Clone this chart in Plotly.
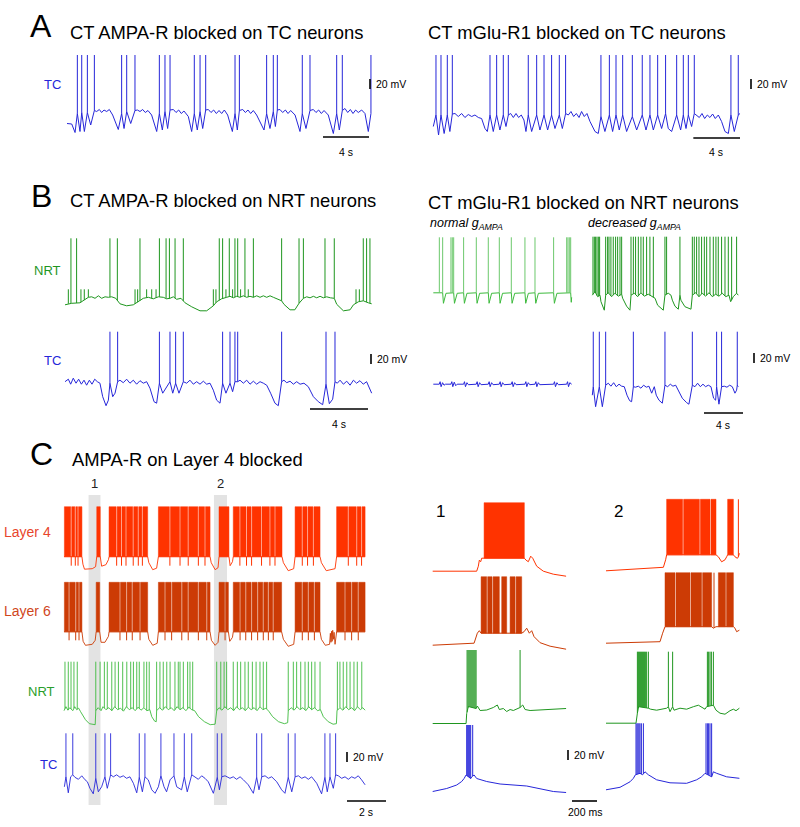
import numpy as np
import plotly.graph_objects as go

W, H = 800, 827
PEAK = 40.0          # spike peak (mV)
FONT = "Liberation Sans, Arial, sans-serif"

TC_BLUE = "#2626d9"
NRT_GREEN = "#1f961f"
NRT_LIGHT = "#3dba3d"
NRT_PALE = "#6cc86c"
L4_RED = "#ff3300"
L6_RED = "#cc3b05"

# ===================== DATA (time in s, voltage in mV) =====================
# ---- Panel A : CT AMPA-R blocked on TC neurons ----
a_ampa_tc_spikes = [0.90, 1.28, 1.77, 2.38, 4.75, 5.19, 5.91, 8.03, 8.52, 8.96, 11.07, 11.57, 12.06,
                    14.61, 14.99, 17.36, 17.94, 18.29, 20.46, 21.13, 23.45, 23.94, 26.43]
a_ampa_tc_base = [(0.0, -97), (0.41, -98), (0.70, -115), (0.90, -77), (1.13, -113), (1.28, -75), (1.51, -113),
                  (1.77, -75), (2.06, -100), (2.38, -71), (2.58, -73), (2.81, -69), (3.01, -75), (3.22, -70),
                  (3.45, -73), (3.68, -69), (3.97, -80), (4.46, -109), (4.75, -77), (4.96, -107), (5.19, -73),
                  (5.54, -97), (5.91, -71), (6.12, -70), (6.35, -73), (6.58, -69), (6.81, -75), (7.04, -71),
                  (7.36, -80), (7.80, -113), (8.03, -77), (8.29, -110), (8.52, -73), (8.75, -107), (8.96, -70),
                  (9.25, -69), (9.48, -75), (9.71, -70), (9.94, -77), (10.17, -72), (10.55, -83), (10.84, -113),
                  (11.07, -77), (11.33, -110), (11.57, -73), (11.80, -107), (12.06, -70), (12.29, -69),
                  (12.52, -75), (12.75, -70), (12.99, -77), (13.22, -71), (13.45, -77), (13.68, -70),
                  (13.97, -80), (14.38, -113), (14.61, -77), (14.81, -110), (14.99, -71), (15.28, -69),
                  (15.51, -75), (15.74, -70), (15.97, -77), (16.20, -71), (16.49, -80), (17.13, -110),
                  (17.36, -77), (17.65, -107), (17.94, -73), (18.12, -103), (18.29, -70), (18.52, -69),
                  (18.75, -75), (18.99, -70), (19.22, -77), (19.45, -71), (19.83, -80), (20.26, -113),
                  (20.46, -77), (20.78, -107), (21.13, -71), (21.42, -69), (21.65, -75), (21.88, -70),
                  (22.12, -77), (22.35, -71), (22.72, -80), (23.16, -117), (23.45, -77), (23.68, -110),
                  (23.94, -71), (24.17, -67), (24.41, -75), (24.64, -69), (24.87, -77), (25.10, -70),
                  (25.33, -75), (25.62, -70), (25.91, -77), (26.20, -113), (26.43, -77)]

# ---- Panel A : CT mGlu-R1 blocked on TC neurons ----
a_mglu_tc_spikes = [0.23, 0.66, 1.2, 1.63, 4.86, 5.43, 6.0, 6.43, 8.14, 8.86, 9.49, 10.14, 10.8, 11.34,
                    14.37, 15.09, 15.66, 16.23, 17.06, 17.91, 18.57, 19.23, 19.91, 20.86, 21.43, 21.86,
                    22.37, 25.51, 26.14]
a_mglu_tc_base = [(0, -103), (0.23, -80), (0.45, -120), (0.66, -80), (0.93, -117), (1.2, -80), (1.42, -113),
                  (1.63, -78), (1.86, -77), (2.14, -83), (2.43, -77), (2.71, -85), (3.0, -79), (3.29, -83),
                  (3.57, -80), (3.86, -85), (4.14, -87), (4.43, -107), (4.63, -113), (4.86, -80), (5.14, -113),
                  (5.43, -80), (5.71, -110), (6.0, -80), (6.23, -103), (6.43, -80), (6.63, -77), (6.86, -85),
                  (7.09, -77), (7.31, -85), (7.54, -80), (7.77, -90), (7.94, -113), (8.14, -80), (8.43, -113),
                  (8.86, -80), (9.14, -110), (9.49, -80), (9.8, -110), (10.14, -80), (10.43, -107), (10.8, -80),
                  (11.06, -107), (11.34, -77), (11.57, -80), (11.8, -73), (12.03, -83), (12.26, -77),
                  (12.49, -85), (12.71, -73), (12.94, -83), (13.17, -77), (13.43, -93), (13.86, -113),
                  (14.14, -117), (14.37, -83), (14.71, -113), (15.09, -80), (15.37, -113), (15.66, -80),
                  (15.94, -110), (16.23, -80), (16.57, -113), (17.06, -83), (17.43, -110), (17.91, -80),
                  (18.23, -110), (18.57, -80), (18.86, -110), (19.23, -80), (19.57, -107), (19.91, -77),
                  (20.14, -107), (20.43, -113), (20.86, -80), (21.2, -110), (21.43, -80), (21.66, -107),
                  (21.86, -80), (22.14, -103), (22.37, -77), (22.57, -80), (22.8, -85), (23.03, -77),
                  (23.26, -87), (23.49, -80), (23.71, -85), (23.94, -78), (24.17, -87), (24.43, -80),
                  (24.71, -93), (25.0, -113), (25.29, -117), (25.51, -80), (25.8, -113), (26.14, -80),
                  (26.29, -77)]

# ---- Panel B : CT AMPA-R blocked on NRT neurons ----
b_ampa_nrt_spikes = [0.41, 0.8, 3.1, 3.61, 5.17, 6.51, 6.97, 7.2, 7.59, 8.16, 10.64, 10.87, 11.33, 11.72,
                     11.91, 12.41, 12.99, 14.94, 16.14, 16.44, 17.93, 18.57, 20.57, 20.8, 21.03]
b_ampa_nrt_small = [0.23, 1.1, 1.33, 1.61, 4.83, 5.01, 5.63, 5.98, 6.28, 10.23, 10.41, 11.1, 11.56, 12.11,
                    12.64, 20.07, 20.3]
b_ampa_nrt_small_peak = -62
b_ampa_nrt_base = [(0, -93), (0.23, -91), (0.46, -90), (1.03, -89), (1.3, -84), (1.61, -78), (1.84, -77),
                   (2.07, -80), (2.3, -75), (2.53, -80), (2.76, -77), (2.99, -78), (3.22, -77), (3.5, -80),
                   (3.79, -91), (4.25, -95), (4.71, -93), (5.06, -87), (5.4, -80), (5.75, -78), (6.09, -81),
                   (6.44, -77), (6.78, -78), (7.01, -81), (7.24, -80), (7.47, -77), (7.7, -82), (8.0, -80),
                   (8.28, -89), (8.74, -97), (9.31, -105), (9.77, -105), (10.23, -95), (10.46, -87),
                   (10.8, -81), (11.15, -78), (11.38, -76), (11.61, -79), (11.84, -76), (12.07, -78),
                   (12.3, -75), (12.53, -78), (12.76, -76), (12.99, -78), (13.22, -75), (13.45, -78),
                   (13.68, -75), (13.91, -78), (14.14, -75), (14.37, -78), (14.71, -82), (14.94, -85),
                   (15.1, -92), (15.52, -103), (15.85, -103), (16.14, -90), (16.44, -80), (16.67, -77),
                   (16.9, -79), (17.13, -76), (17.36, -79), (17.59, -76), (17.82, -79), (18.05, -77),
                   (18.3, -79), (18.57, -80), (18.74, -92), (19.2, -105), (19.66, -103), (19.89, -93),
                   (20.23, -87), (20.57, -85), (20.92, -89), (21.15, -91)]
b_ampa_tc_spikes = [3.1, 3.63, 6.51, 7.24, 7.63, 8.16, 10.87, 11.38, 11.72, 11.91, 14.94, 18.0, 18.62]
b_ampa_tc_base = [(0.0, -60), (0.23, -55), (0.39, -65), (0.57, -53), (0.76, -63), (0.94, -55), (1.13, -65),
                  (1.31, -57), (1.49, -67), (1.68, -57), (1.86, -65), (2.05, -55), (2.23, -60), (2.41, -63),
                  (2.6, -90), (2.83, -108), (2.99, -97), (3.1, -63), (3.29, -90), (3.45, -83), (3.63, -60),
                  (3.79, -57), (4.02, -62), (4.25, -55), (4.48, -63), (4.71, -57), (4.94, -65), (5.17, -58),
                  (5.4, -63), (5.63, -60), (5.86, -73), (6.14, -100), (6.32, -103), (6.51, -63), (6.74, -83),
                  (6.97, -73), (7.24, -60), (7.43, -83), (7.63, -63), (7.86, -83), (8.16, -60), (8.39, -63),
                  (8.62, -57), (8.85, -65), (9.08, -60), (9.31, -65), (9.54, -59), (9.77, -65), (10.0, -63),
                  (10.23, -77), (10.46, -97), (10.69, -103), (10.87, -63), (11.1, -83), (11.38, -63),
                  (11.56, -80), (11.72, -60), (11.91, -60), (12.07, -57), (12.3, -63), (12.53, -57),
                  (12.76, -65), (12.99, -59), (13.22, -65), (13.45, -60), (13.68, -63), (13.91, -67),
                  (14.18, -83), (14.48, -103), (14.71, -108), (14.94, -60), (15.1, -57), (15.29, -62),
                  (15.52, -59), (15.75, -65), (15.98, -60), (16.21, -65), (16.48, -63), (16.78, -70),
                  (17.13, -90), (17.47, -100), (17.77, -106), (18.0, -65), (18.23, -104), (18.46, -95),
                  (18.62, -60), (18.78, -63), (18.97, -57), (19.2, -65), (19.43, -59), (19.66, -67),
                  (19.89, -57), (20.11, -63), (20.34, -58), (20.57, -65), (20.8, -60), (20.99, -73),
                  (21.15, -83)]

# ---- Panel B : CT mGlu-R1 blocked on NRT neurons ----
b_norm_nrt_spikes = [0.62, 0.96, 1.81, 1.95, 2.09, 3.11, 4.41, 5.64, 6.77, 8.0, 9.4, 10.43, 12.34,
                     13.68, 13.81, 13.95, 14.09]
b_norm_nrt_base = [(0, -71), (0.96, -71), (1.04, -92), (1.3, -72), (2.09, -71), (2.17, -92), (2.45, -72),
                   (3.11, -71), (3.19, -92), (3.45, -72), (4.41, -71), (4.49, -92), (4.75, -72), (5.64, -71),
                   (5.72, -92), (5.98, -72), (6.77, -71), (6.85, -92), (7.1, -72), (8.0, -71), (8.08, -92),
                   (8.35, -72), (9.4, -71), (9.48, -92), (9.75, -72), (10.43, -71), (10.51, -92), (10.78, -72),
                   (12.34, -71), (12.42, -92), (12.68, -72), (14.09, -71), (14.15, -90), (14.19, -80)]
b_norm_tc_base = [(0, -65), (0.62, -65), (0.7, -60), (0.8, -70), (0.95, -62), (1.1, -67), (1.25, -65),
                  (1.81, -65), (1.9, -60), (2.0, -70), (2.15, -61), (2.3, -68), (2.45, -65), (3.11, -65),
                  (3.2, -60), (3.3, -70), (3.45, -62), (3.6, -66), (4.41, -65), (4.5, -60), (4.6, -70),
                  (4.75, -62), (4.9, -66), (5.64, -65), (5.73, -60), (5.83, -70), (5.98, -62), (6.13, -66),
                  (6.77, -65), (6.86, -60), (6.96, -70), (7.11, -62), (7.26, -66), (8.0, -65), (8.09, -60),
                  (8.19, -70), (8.34, -62), (8.49, -66), (9.4, -65), (9.49, -60), (9.59, -70), (9.74, -62),
                  (9.89, -66), (10.43, -65), (10.52, -60), (10.62, -70), (10.77, -62), (10.92, -66),
                  (12.34, -65), (12.43, -60), (12.53, -70), (12.68, -62), (12.83, -66), (13.68, -65),
                  (13.77, -60), (13.87, -70), (14.0, -62), (14.19, -65)]
b_decr_nrt_spikes = [0.07, 0.21, 0.34, 0.48, 0.62, 0.75, 1.37, 1.57, 1.71, 1.91, 2.15, 2.39, 2.6, 2.84, 3.01,
                     3.97, 4.21, 4.44, 4.72, 4.99, 5.23, 5.57, 5.91, 6.26, 7.45, 7.62, 8.99, 10.26, 10.46,
                     10.7, 10.94, 11.21, 11.49, 11.73, 12.07, 12.41, 12.68, 12.92, 13.26, 13.61, 13.95,
                     14.29, 14.8]
b_decr_nrt_base = [(0, -77), (0.27, -70), (0.55, -80), (0.79, -77), (0.89, -90), (1.23, -107), (1.37, -77),
                   (1.64, -72), (1.98, -80), (2.32, -73), (2.67, -79), (3.01, -75), (3.11, -83), (3.52, -99),
                   (3.86, -107), (3.97, -77), (4.31, -73), (4.65, -80), (4.99, -72), (5.33, -79), (5.74, -75),
                   (6.09, -80), (6.43, -83), (6.7, -97), (7.28, -107), (7.45, -77), (7.79, -73), (8.07, -77),
                   (8.21, -87), (8.48, -99), (8.82, -105), (8.99, -77), (9.09, -87), (9.5, -100),
                   (10.12, -105), (10.26, -77), (10.6, -72), (10.94, -80), (11.28, -73), (11.62, -79),
                   (11.97, -72), (12.31, -80), (12.65, -75), (12.99, -79), (13.33, -73), (13.68, -80),
                   (14.02, -77), (14.19, -90), (14.46, -80), (14.8, -73), (14.97, -77)]
b_decr_tc_spikes = [0.1, 0.72, 1.37, 4.21, 7.45, 10.26, 12.75, 13.26, 14.87]
b_decr_tc_base = [(0, -87), (0.1, -70), (0.34, -110), (0.62, -77), (0.72, -70), (1.03, -110), (1.3, -77),
                  (1.37, -67), (1.64, -63), (1.91, -69), (2.19, -62), (2.46, -70), (2.74, -65), (3.01, -69),
                  (3.28, -70), (3.56, -87), (3.83, -98), (4.03, -100), (4.21, -70), (4.44, -71), (4.72, -69),
                  (4.99, -73), (5.26, -67), (5.54, -71), (5.81, -69), (6.09, -83), (6.36, -70), (6.56, -87),
                  (6.84, -97), (7.18, -103), (7.45, -67), (7.73, -70), (8.0, -65), (8.27, -69), (8.55, -67),
                  (8.82, -77), (9.23, -93), (9.68, -102), (9.91, -105), (10.26, -67), (10.53, -70),
                  (10.8, -63), (11.08, -70), (11.35, -65), (11.62, -70), (11.9, -67), (12.17, -70),
                  (12.44, -93), (12.65, -97), (12.75, -70), (12.99, -105), (13.26, -70), (13.54, -69),
                  (13.81, -71), (14.09, -67), (14.36, -70), (14.63, -83), (14.8, -77), (14.87, -67),
                  (14.97, -70)]

# ---- Panel C : AMPA-R on Layer 4 blocked ----
c_l4_blocks = [(0.02, 0.92), (1.68, 1.86), (2.31, 4.29), (4.84, 7.49), (7.95, 8.46), (8.68, 11.18),
               (11.85, 13.13), (13.98, 15.44)]
c_l4_gaps = [0.37, 0.58, 0.72, 2.7, 2.95, 3.18, 3.55, 3.81, 4.02, 5.43, 5.95, 6.37, 6.89, 7.23, 9.02, 9.36,
             9.62, 10.13, 10.56, 10.82, 12.22, 12.49, 12.79, 14.58, 15.01, 15.26]
c_l4_floor, c_l4_dip = -60, -78
c_l4_base = [(0.0, -60), (0.92, -60), (0.97, -75), (1.05, -85), (1.45, -84), (1.62, -80), (1.68, -60),
             (1.86, -60), (1.93, -79), (2.15, -76), (2.28, -66), (2.31, -60), (4.29, -60), (4.35, -72),
             (4.55, -86), (4.75, -83), (4.84, -60), (7.49, -60), (7.55, -72), (7.75, -86), (7.9, -82),
             (7.95, -60), (8.46, -60), (8.52, -78), (8.64, -70), (8.68, -60), (11.18, -60), (11.25, -72),
             (11.5, -88), (11.78, -84), (11.85, -60), (13.13, -60), (13.2, -72), (13.45, -88), (13.9, -84),
             (13.98, -60), (15.44, -60)]
c_l6_blocks = [(0.02, 0.92), (1.65, 1.83), (2.31, 4.29), (4.84, 7.49), (7.95, 8.43), (8.68, 11.16),
               (11.85, 13.13), (13.98, 15.44)]
c_l6_gaps = [0.26, 0.6, 0.77, 2.87, 3.21, 3.5, 3.9, 5.18, 5.52, 6.04, 6.37, 6.89, 7.32, 8.26, 9.03, 9.32,
             9.62, 9.93, 10.22, 10.48, 10.73, 12.22, 12.53, 12.84, 14.41, 14.75, 15.09]
c_l6_floor, c_l6_dip = -59, -76
c_l6_base = [(0, -59), (0.92, -59), (0.98, -78), (1.1, -86), (1.45, -84), (1.6, -76), (1.65, -59),
             (1.83, -59), (1.9, -80), (2.1, -80), (2.28, -68), (2.31, -59), (4.29, -59), (4.35, -74),
             (4.55, -86), (4.78, -82), (4.84, -59), (7.49, -59), (7.56, -76), (7.75, -86), (7.9, -80),
             (7.95, -59), (8.43, -59), (8.5, -78), (8.64, -70), (8.68, -59), (11.16, -59), (11.25, -74),
             (11.5, -88), (11.78, -84), (11.85, -59), (13.13, -59), (13.2, -74), (13.4, -86), (13.62, -84),
             (13.66, -62), (13.69, -80), (13.72, -58), (13.75, -78), (13.78, -56), (13.81, -74),
             (13.85, -60), (13.9, -84), (13.98, -59), (15.44, -59)]
c_nrt_spikes = [0.05, 0.22, 0.36, 0.51, 0.68, 1.63, 1.85, 2.07, 2.22, 2.45, 2.62, 2.79, 3.01, 3.22, 3.42,
                3.56, 3.73, 3.86, 4.1, 4.24, 4.37, 4.75, 4.92, 5.09, 5.27, 5.44, 5.69, 5.86, 5.95, 6.12,
                6.34, 6.46, 6.6, 7.83, 8.04, 8.21, 8.34, 8.68, 8.89, 9.06, 9.28, 9.45, 9.66, 9.85, 10.05,
                10.22, 10.39, 11.5, 11.76, 11.93, 12.14, 12.36, 12.53, 12.7, 12.87, 13.13, 14.02, 14.15,
                14.32, 14.5, 14.67, 14.87, 15.04, 15.27]
c_nrt_base = [(0, -58), (0.1, -50), (0.2, -57), (0.3, -52), (0.45, -58), (0.55, -50), (0.65, -56),
              (0.75, -53), (0.85, -60), (1.1, -76), (1.3, -84), (1.5, -86), (1.6, -86), (1.63, -58),
              (1.75, -52), (1.9, -58), (2.0, -50), (2.15, -56), (2.3, -52), (2.45, -58), (2.6, -50),
              (2.75, -56), (2.9, -53), (3.05, -59), (3.2, -50), (3.35, -56), (3.5, -52), (3.65, -58),
              (3.8, -51), (3.95, -57), (4.1, -52), (4.25, -58), (4.4, -56), (4.5, -70), (4.65, -79),
              (4.73, -80), (4.75, -58), (4.9, -52), (5.05, -57), (5.2, -50), (5.35, -56), (5.5, -52),
              (5.65, -58), (5.8, -50), (5.95, -56), (6.1, -52), (6.25, -58), (6.4, -51), (6.55, -56),
              (6.7, -58), (6.9, -70), (7.2, -80), (7.5, -86), (7.75, -85), (7.83, -58), (7.95, -52),
              (8.1, -57), (8.25, -50), (8.4, -56), (8.55, -52), (8.7, -58), (8.85, -50), (9.0, -56),
              (9.15, -52), (9.3, -58), (9.45, -51), (9.6, -56), (9.75, -52), (9.9, -58), (10.05, -50),
              (10.2, -56), (10.35, -53), (10.5, -59), (10.7, -70), (11.0, -80), (11.3, -84), (11.47, -82),
              (11.5, -58), (11.65, -52), (11.8, -57), (11.95, -50), (12.1, -56), (12.25, -52), (12.4, -58),
              (12.55, -50), (12.7, -56), (12.85, -52), (13.0, -58), (13.15, -56), (13.3, -70), (13.55, -80),
              (13.8, -85), (13.97, -84), (14.0, -58), (14.15, -52), (14.3, -57), (14.45, -50), (14.6, -56),
              (14.75, -52), (14.9, -58), (15.05, -50), (15.2, -56), (15.32, -52), (15.44, -57)]
c_tc_spikes = [0.1, 0.45, 1.63, 2.1, 2.39, 3.86, 4.15, 4.97, 5.64, 6.17, 6.55, 7.86, 8.09, 9.88, 10.14, 11.5,
               11.85, 13.38, 13.64, 13.93]
c_tc_base = [(0.02, -67), (0.1, -47), (0.22, -79), (0.34, -47), (0.45, -43), (0.56, -48), (0.74, -52),
             (0.91, -45), (1.08, -53), (1.2, -57), (1.33, -70), (1.5, -81), (1.63, -50), (1.76, -77),
             (1.93, -67), (2.1, -47), (2.22, -70), (2.39, -43), (2.53, -47), (2.7, -43), (2.87, -48),
             (3.04, -45), (3.21, -50), (3.38, -47), (3.56, -60), (3.73, -79), (3.86, -48), (4.02, -77),
             (4.15, -47), (4.32, -53), (4.5, -73), (4.67, -80), (4.84, -67), (4.97, -45), (5.13, -67),
             (5.26, -77), (5.44, -53), (5.64, -45), (5.78, -67), (6.03, -73), (6.17, -47), (6.32, -77),
             (6.55, -43), (6.72, -47), (6.89, -52), (7.06, -45), (7.23, -50), (7.4, -57), (7.66, -80),
             (7.86, -48), (7.97, -73), (8.09, -47), (8.26, -45), (8.51, -50), (8.68, -47), (8.85, -52),
             (9.03, -47), (9.2, -53), (9.45, -63), (9.71, -80), (9.88, -48), (10.0, -73), (10.14, -47),
             (10.31, -45), (10.48, -50), (10.65, -47), (10.91, -57), (11.16, -73), (11.33, -80),
             (11.5, -48), (11.68, -77), (11.85, -47), (12.02, -45), (12.19, -50), (12.36, -47),
             (12.53, -52), (12.7, -47), (12.96, -60), (13.21, -81), (13.38, -48), (13.5, -77),
             (13.64, -47), (13.81, -70), (13.93, -43), (14.07, -45), (14.24, -50), (14.41, -47),
             (14.58, -52), (14.75, -47), (14.92, -50), (15.09, -45), (15.26, -53), (15.44, -63)]
c_windows = [(1.26, 1.87), (7.69, 8.36)]
c_window_labels = ["1", "2"]

# ---- Panel C : expanded windows 1 and 2 ----
w1_l4_blocks, w1_l4_gaps = [(0.411, 0.733)], []
w1_l4_floor = -71
w1_l4_base = [(0, -97), (0.352, -97), (0.365, -87), (0.373, -75), (0.384, -78), (0.392, -71), (0.411, -71),
              (0.733, -71), (0.747, -75), (0.765, -78), (0.784, -67), (0.8, -71), (0.832, -87), (0.885, -97),
              (0.965, -103), (1.067, -107)]
w1_l6_blocks = [(0.387, 0.533), (0.552, 0.592), (0.619, 0.712)]
w1_l6_gaps = [0.436, 0.479, 0.663]
w1_l6_floor = -73
w1_l6_base = [(0, -97), (0.331, -93), (0.357, -73), (0.373, -68), (0.387, -73), (0.712, -73), (0.731, -70),
              (0.752, -63), (0.773, -73), (0.792, -68), (0.811, -80), (0.859, -92), (0.939, -99),
              (1.067, -105)]
w1_nrt_spikes = [0.275, 0.283, 0.291, 0.299, 0.307, 0.315, 0.323, 0.331, 0.339, 0.347, 0.699]
w1_nrt_base = [(0, -107), (0.267, -107), (0.272, -87), (0.285, -73), (0.347, -77), (0.357, -72),
               (0.379, -81), (0.432, -80), (0.485, -75), (0.517, -70), (0.533, -79), (0.565, -77),
               (0.592, -83), (0.619, -79), (0.645, -81), (0.677, -77), (0.699, -75), (0.72, -70),
               (0.739, -79), (0.779, -81), (0.859, -80), (0.965, -79), (1.067, -77)]
w1_tc_spikes = [0.272, 0.28, 0.288, 0.296, 0.304, 0.32]
w1_tc_base = [(0, -93), (0.112, -87), (0.192, -80), (0.232, -73), (0.251, -67), (0.267, -60), (0.304, -67),
              (0.315, -63), (0.331, -60), (0.352, -67), (0.432, -73), (0.539, -78), (0.752, -82),
              (0.859, -87), (0.965, -93), (1.067, -95)]
w2_l4_blocks = [(0.485, 0.88), (0.973, 1.019)]
w2_l4_gaps = [0.617, 0.751, 0.836]
w2_l4_floor = -71
w2_l4_spikes = [1.059]
w2_l4_base = [(0, -103), (0.219, -100), (0.459, -96), (0.477, -81), (0.485, -71), (0.88, -71), (0.899, -75),
              (0.925, -85), (0.952, -81), (0.965, -75), (0.973, -71), (1.019, -71), (1.032, -75),
              (1.051, -78), (1.059, -75), (1.067, -68)]
w2_l6_blocks = [(0.472, 0.845), (0.899, 1.019)]
w2_l6_gaps = [0.556, 0.676, 0.769, 0.96]
w2_l6_floor = -68
w2_l6_spikes = [0.864]
w2_l6_base = [(0, -101), (0.219, -100), (0.432, -98), (0.453, -81), (0.472, -68), (0.845, -68), (0.859, -71),
              (0.88, -68), (0.899, -68), (1.019, -68), (1.032, -71), (1.045, -78), (1.067, -75)]
w2_nrt_spikes = [0.251, 0.259, 0.267, 0.275, 0.283, 0.291, 0.299, 0.307, 0.315, 0.325, 0.339, 0.499, 0.533,
                 0.811, 0.821, 0.832, 0.843, 0.859]
w2_nrt_base = [(0, -103), (0.24, -103), (0.251, -83), (0.261, -70), (0.339, -73), (0.357, -75), (0.405, -77),
               (0.485, -73), (0.499, -70), (0.512, -80), (0.533, -70), (0.544, -77), (0.592, -73),
               (0.645, -75), (0.699, -70), (0.739, -67), (0.792, -75), (0.805, -70), (0.859, -67),
               (0.88, -77), (0.912, -83), (0.952, -85), (0.992, -78), (1.019, -75), (1.04, -78),
               (1.067, -73)]
w2_tc_spikes = [0.24, 0.248, 0.256, 0.264, 0.272, 0.283, 0.299, 0.8, 0.811, 0.821, 0.832, 0.845]
w2_tc_base = [(0, -93), (0.112, -88), (0.192, -77), (0.219, -70), (0.235, -63), (0.272, -60), (0.293, -63),
              (0.312, -57), (0.339, -63), (0.405, -73), (0.512, -79), (0.645, -80), (0.725, -73),
              (0.765, -67), (0.792, -60), (0.819, -63), (0.845, -67), (0.859, -57), (0.885, -60),
              (0.965, -67), (1.067, -70)]

# scale bars
scale_mv = 20
scale_ab_s = 4
scale_c_s = 2
scale_win_s = 0.2

# ===================== FIGURE =====================
fig = go.Figure()
layout_axes = {}
counter = [0]


def new_axes(x0px, pxps, tmax, ytop, pad=4):
    """Create a (time, voltage) axis pair: 2 mV per pixel, PEAK drawn at pixel row ytop."""
    counter[0] += 1
    n = counter[0]
    s = "" if n == 1 else str(n)
    x1px = x0px + tmax * pxps
    ytp = max(ytop - 14, 0)
    ybp = min(ytop + 100, H)
    layout_axes["xaxis" + s] = dict(domain=[(x0px - pad) / W, (x1px + pad) / W],
                                    range=[-pad / pxps, tmax + pad / pxps],
                                    visible=False, fixedrange=True, anchor="y" + s)
    layout_axes["yaxis" + s] = dict(domain=[1 - ybp / H, 1 - ytp / H],
                                    range=[PEAK - 2 * (ybp - ytop), PEAK + 2 * (ytop - ytp)],
                                    visible=False, fixedrange=True, anchor="x" + s)
    return dict(xa="x" + s, ya="y" + s, x0=x0px, pxps=pxps, ytop=ytop)


def line(ax, xs, ys, color, width=1.0):
    fig.add_trace(go.Scatter(x=xs, y=ys, mode="lines", line=dict(color=color, width=width),
                             xaxis=ax["xa"], yaxis=ax["ya"], hoverinfo="skip", showlegend=False,
                             connectgaps=False))


def draw_trace(ax, base, spikes, color, width=1.0, spike_color=None, small=None, small_peak=None,
               peak=PEAK):
    bt = [p[0] for p in base]
    bv = [p[1] for p in base]
    line(ax, bt, bv, color, width)
    sx, sy = [], []
    for ts in spikes:
        foot = float(np.interp(ts, bt, bv))
        sx += [ts, ts, None]
        sy += [foot, peak, None]
    if small:
        for ts in small:
            foot = float(np.interp(ts, bt, bv))
            sx += [ts, ts, None]
            sy += [foot, small_peak, None]
    if sx:
        line(ax, sx, sy, spike_color or color, width)


def draw_blocks(ax, blocks, gaps, floor, color, gap_w, dip=None):
    xs, ys = [], []
    for on, off in blocks:
        cuts = [g for g in gaps if on < g < off]
        edges = [on]
        for g in cuts:
            edges += [g - gap_w / 2, g + gap_w / 2]
        edges.append(off)
        for i in range(0, len(edges), 2):
            a, b = edges[i], edges[i + 1]
            xs += [a, a, b, b, a, None]
            ys += [floor, PEAK, PEAK, floor, floor, None]
    fig.add_trace(go.Scatter(x=xs, y=ys, mode="lines", fill="toself", fillcolor=color,
                             line=dict(color=color, width=0.5), xaxis=ax["xa"], yaxis=ax["ya"],
                             hoverinfo="skip", showlegend=False))
    if dip is not None and gaps:
        dx, dy = [], []
        for g in gaps:
            dx += [g, g, None]
            dy += [floor, dip, None]
        line(ax, dx, dy, color, 1.0)


# ---------------- Panel A ----------------
axA1 = new_axes(67, 11.5, 26.52, 55)
draw_trace(axA1, a_ampa_tc_base, a_ampa_tc_spikes, TC_BLUE)
axA2 = new_axes(433.3, 11.667, 26.29, 55)
draw_trace(axA2, a_mglu_tc_base, a_mglu_tc_spikes, TC_BLUE)

# ---------------- Panel B ----------------
axB1 = new_axes(65, 14.5, 21.17, 238.3)
draw_trace(axB1, b_ampa_nrt_base, b_ampa_nrt_spikes, NRT_GREEN, small=b_ampa_nrt_small,
           small_peak=b_ampa_nrt_small_peak)
axB2 = new_axes(65, 14.5, 21.17, 331.7)
draw_trace(axB2, b_ampa_tc_base, b_ampa_tc_spikes, TC_BLUE)
axB3 = new_axes(433.3, 9.75, 14.19, 237.3)
draw_trace(axB3, b_norm_nrt_base, b_norm_nrt_spikes, NRT_LIGHT, spike_color=NRT_PALE)
axB4 = new_axes(433.3, 9.75, 14.19, 331.7)
draw_trace(axB4, b_norm_tc_base, [], TC_BLUE)
axB5 = new_axes(592.3, 9.75, 14.97, 236.7)
draw_trace(axB5, b_decr_nrt_base, b_decr_nrt_spikes, NRT_GREEN)
axB6 = new_axes(592.3, 9.75, 14.97, 331.7)
draw_trace(axB6, b_decr_tc_base, b_decr_tc_spikes, TC_BLUE)

# ---------------- Panel C (overview) ----------------
axC1 = new_axes(64, 19.5, 15.44, 506.7)
draw_blocks(axC1, c_l4_blocks, c_l4_gaps, c_l4_floor, L4_RED, 0.05, c_l4_dip)
draw_trace(axC1, c_l4_base, [], L4_RED, 0.9)
axC2 = new_axes(64, 19.5, 15.44, 582.3)
draw_blocks(axC2, c_l6_blocks, c_l6_gaps, c_l6_floor, L6_RED, 0.05, c_l6_dip)
draw_trace(axC2, c_l6_base, [], L6_RED, 0.9)
axC3 = new_axes(64, 19.5, 15.44, 661.7)
draw_trace(axC3, c_nrt_base, c_nrt_spikes, NRT_LIGHT, 0.9)
axC4 = new_axes(64, 19.5, 15.44, 733.3)
draw_trace(axC4, c_tc_base, c_tc_spikes, TC_BLUE, 0.9)

# highlight windows
for (a, b), lab in zip(c_windows, c_window_labels):
    fig.add_shape(type="rect", xref=axC1["xa"], yref="paper", x0=a, x1=b, y0=1 - 805 / H, y1=1 - 495 / H,
                  fillcolor="#e3e3e3", line=dict(width=0), layer="below")
    fig.add_annotation(text=lab, x=(a + b) / 2, y=1 - 484 / H, xref=axC1["xa"], yref="paper",
                       showarrow=False, xanchor="center", yanchor="middle",
                       font=dict(family=FONT, size=13, color="#222"))

# ---------------- Panel C (windows 1 & 2) ----------------
axW1a = new_axes(432.7, 125, 1.067, 502.7)
draw_blocks(axW1a, w1_l4_blocks, w1_l4_gaps, w1_l4_floor, L4_RED, 0.008)
draw_trace(axW1a, w1_l4_base, [], L4_RED)
axW1b = new_axes(432.7, 125, 1.067, 576.7)
draw_blocks(axW1b, w1_l6_blocks, w1_l6_gaps, w1_l6_floor, L6_RED, 0.008)
draw_trace(axW1b, w1_l6_base, [], L6_RED)
axW1c = new_axes(432.7, 125, 1.067, 650)
draw_trace(axW1c, w1_nrt_base, w1_nrt_spikes, NRT_GREEN)
axW1d = new_axes(432.7, 125, 1.067, 725)
draw_trace(axW1d, w1_tc_base, w1_tc_spikes, TC_BLUE)

axW2a = new_axes(606, 125, 1.067, 499.3)
draw_blocks(axW2a, w2_l4_blocks, w2_l4_gaps, w2_l4_floor, L4_RED, 0.008)
draw_trace(axW2a, w2_l4_base, w2_l4_spikes, L4_RED)
axW2b = new_axes(606, 125, 1.067, 572.7)
draw_blocks(axW2b, w2_l6_blocks, w2_l6_gaps, w2_l6_floor, L6_RED, 0.008)
draw_trace(axW2b, w2_l6_base, w2_l6_spikes, L6_RED)
axW2c = new_axes(606, 125, 1.067, 651.7)
draw_trace(axW2c, w2_nrt_base, w2_nrt_spikes, NRT_GREEN)
axW2d = new_axes(606, 125, 1.067, 723.3)
draw_trace(axW2d, w2_tc_base, w2_tc_spikes, TC_BLUE)


# ---------------- scale bars ----------------
def vbar(xpx, ybot_px, mv):
    fig.add_shape(type="line", xref="paper", yref="paper", x0=xpx / W, x1=xpx / W,
                  y0=1 - ybot_px / H, y1=1 - (ybot_px - mv / 2.0) / H, line=dict(color="black", width=1.6))


def hbar(x1px, ypx, seconds, pxps):
    fig.add_shape(type="line", xref="paper", yref="paper", x0=(x1px - seconds * pxps) / W, x1=x1px / W,
                  y0=1 - ypx / H, y1=1 - ypx / H, line=dict(color="black", width=1.6))


def txt(s, x, y, size, color="black", xanchor="left"):
    fig.add_annotation(text=s, x=x / W, y=1 - y / H, xref="paper", yref="paper", showarrow=False,
                       xanchor=xanchor, yanchor="middle", font=dict(family=FONT, size=size, color=color))


vbar(370, 89, scale_mv); txt(f"{scale_mv} mV", 374, 84, 10.5)
hbar(369, 137, scale_ab_s, 11.5); txt(f"{scale_ab_s} s", 346, 152, 10.5, xanchor="center")
vbar(751, 89, scale_mv); txt(f"{scale_mv} mV", 755, 84, 10.5)
hbar(740, 138, scale_ab_s, 11.667); txt(f"{scale_ab_s} s", 716, 152, 10.5, xanchor="center")
vbar(371, 364, scale_mv); txt(f"{scale_mv} mV", 375, 359, 10.5)
hbar(368, 409, scale_ab_s, 14.5); txt(f"{scale_ab_s} s", 339, 424, 10.5, xanchor="center")
vbar(754, 363, scale_mv); txt(f"{scale_mv} mV", 758, 358, 10.5)
hbar(743, 413, scale_ab_s, 9.75); txt(f"{scale_ab_s} s", 723, 425, 10.5, xanchor="center")
vbar(347, 762, scale_mv); txt(f"{scale_mv} mV", 351, 757, 10.5)
hbar(386, 801, scale_c_s, 19.5); txt(f"{scale_c_s} s", 366, 812, 10.5, xanchor="center")
vbar(568, 760, scale_mv); txt(f"{scale_mv} mV", 572, 755, 10.5)
hbar(597, 801, scale_win_s, 125); txt(f"{int(scale_win_s * 1000)} ms", 585, 812, 10.5, xanchor="center")

# ---------------- texts ----------------
txt("A", 41, 26, 32, xanchor="center")
txt("B", 41, 196, 32, xanchor="center")
txt("C", 41, 454, 32, xanchor="center")
txt("CT AMPA-R blocked on TC neurons", 68, 33, 18.4)
txt("CT mGlu-R1 blocked on TC neurons", 426, 33, 18.4)
txt("CT AMPA-R blocked on NRT neurons", 68, 201, 18.4)
txt("CT mGlu-R1 blocked on NRT neurons", 426, 202, 18.4)
txt("<i>normal g<sub>AMPA</sub></i>", 428, 224, 12.5)
txt("<i>decreased g<sub>AMPA</sub></i>", 586, 224, 12.5)
txt("AMPA-R on Layer 4 blocked", 70, 459, 18.4)
txt("TC", 63, 84, 13, TC_BLUE, "right")
txt("NRT", 63, 270, 13, NRT_GREEN, "right")
txt("TC", 63, 360, 13, TC_BLUE, "right")
txt("Layer 4", 53, 532, 14, "#e8452c", "right")
txt("Layer 6", 53, 611, 14, "#d0461c", "right")
txt("NRT", 57, 691, 13, "#2a9e2a", "right")
txt("TC", 59, 764, 13, TC_BLUE, "right")
txt("1", 434, 511, 17)
txt("2", 612, 511, 17)

fig.update_layout(width=W, height=H, margin=dict(l=0, r=0, t=0, b=0, pad=0),
                  paper_bgcolor="white", plot_bgcolor="rgba(0,0,0,0)", showlegend=False,
                  **layout_axes)
fig.write_html("out.html", config={"displayModeBar": False, "staticPlot": True},
               post_script="document.body.style.margin='0px';"
                           "document.documentElement.style.overflow='hidden';")
